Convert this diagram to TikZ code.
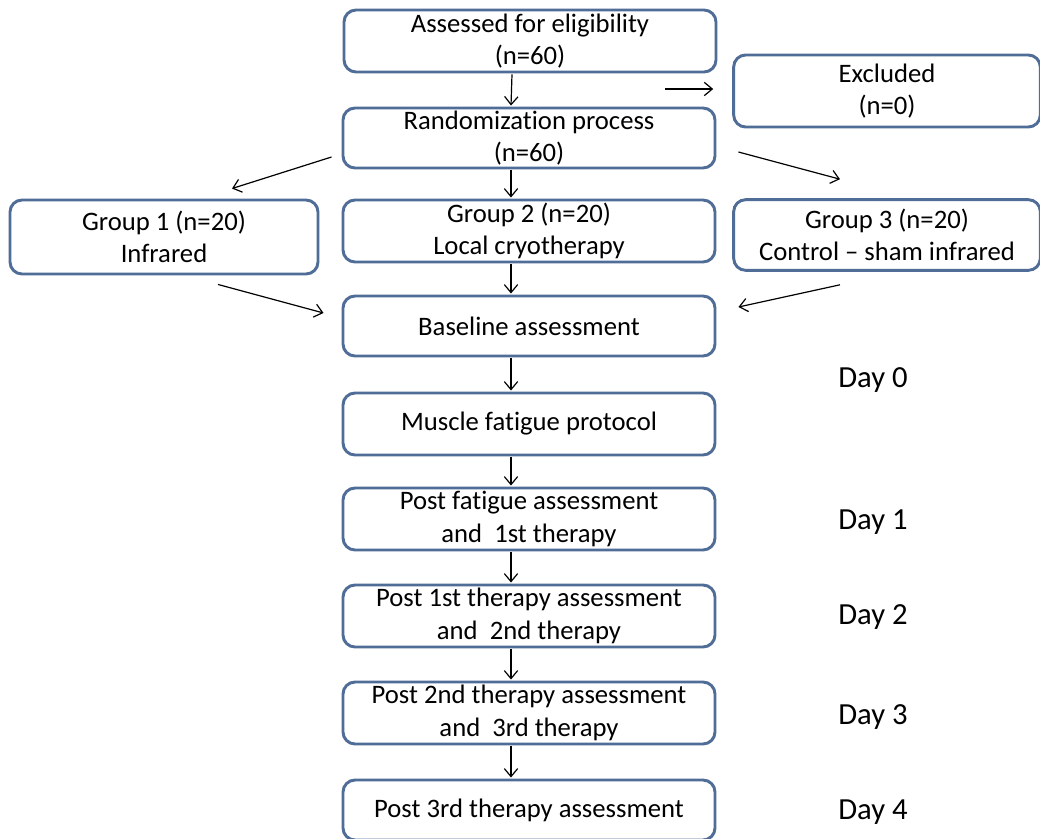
\documentclass[tikz,border=0pt]{standalone}
\usepackage{fontspec}
\setmainfont{Carlito}[Ligatures=NoCommon]
\usetikzlibrary{arrows.meta,calc,positioning}
\definecolor{boxblue}{RGB}{79,109,150}

\tikzset{
  stage/.style={draw=boxblue, line width=2.2pt, rounded corners=9pt, fill=white,
    align=center, inner sep=0pt, font=\fontsize{20}{24.5}\selectfont,
    minimum width=279pt, minimum height=46.5pt},
  group/.style={stage, minimum width=230pt, minimum height=54pt},
  flow/.style={-{Straight Barb[length=6pt,width=10pt]}, line width=0.9pt},
  daylabel/.style={font=\fontsize{23}{28}\selectfont}
}

\begin{document}
\begin{tikzpicture}[x=0.75pt, y=-0.75pt]
  \useasboundingbox (0,0) rectangle (1040,839);

  % main column
  \node[stage] (assess) at (530,41) {Assessed for eligibility\\(n=60)};
  \node[stage, minimum height=45pt] (rand) at (529,138) {Randomization process\\(n=60)};
  \node[stage] (g2) at (529,231) {Group 2 (n=20)\\Local cryotherapy};
  \node[stage, minimum height=45pt] (base) at (529,326) {Baseline assessment};
  \node[stage] (fatigue) at (529,424) {Muscle fatigue protocol};
  \node[stage] (post0) at (529,519) {Post fatigue assessment\\and~~1st therapy};
  \node[stage] (post1) at (529,616) {Post 1st therapy assessment\\and~~2nd therapy};
  \node[stage] (post2) at (529,713) {Post 2nd therapy assessment\\and~~3rd therapy};
  \node[stage, minimum height=45pt] (post3) at (529,810) {Post 3rd therapy assessment};

  % side boxes
  \node[group] (excl) at (887,91) {Excluded\\(n=0)};
  \node[group, minimum width=231pt, minimum height=55.5pt] (g1) at (164,237) {Group 1 (n=20)\\Infrared};
  \node[group, minimum height=53pt] (g3) at (887,235) {Group 3 (n=20)\\Control -- sham infrared};

  % days
  \node[daylabel] (d0) at (873,380) {Day 0};
  \node[daylabel] (d1) at (873,522) {Day 1};
  \node[daylabel] (d2) at (873,617) {Day 2};
  \node[daylabel] (d3) at (873,717) {Day 3};
  \node[daylabel] (d4) at (873,812) {Day 4};

  % vertical arrows
  \foreach \a/\b in {assess/rand, rand/g2, g2/base, base/fatigue, fatigue/post0, post0/post1, post1/post2, post2/post3}
    \draw[flow] ($(\a.south)+(-18,1)$) -- ($(\b.north)+(-18,-1)$);

  % side arrows
  \draw[flow] ($(excl.west)+(-67,-2)$) -- ($(excl.west)+(-19,-2)$);
  \draw[flow] ($(rand.west)+(-10,19)$) -- ($(g1.north)+(68,-10)$);
  \draw[flow] ($(rand.east)+(22,14)$) -- ($(g3.north)+(-47,-19)$);
  \draw[flow] ($(g1.south)+(54,9)$) -- ($(base.west)+(-18,-13)$);
  \draw[flow] ($(g3.south)+(-47,13)$) -- ($(base.east)+(22,-19)$);
\end{tikzpicture}
\end{document}
